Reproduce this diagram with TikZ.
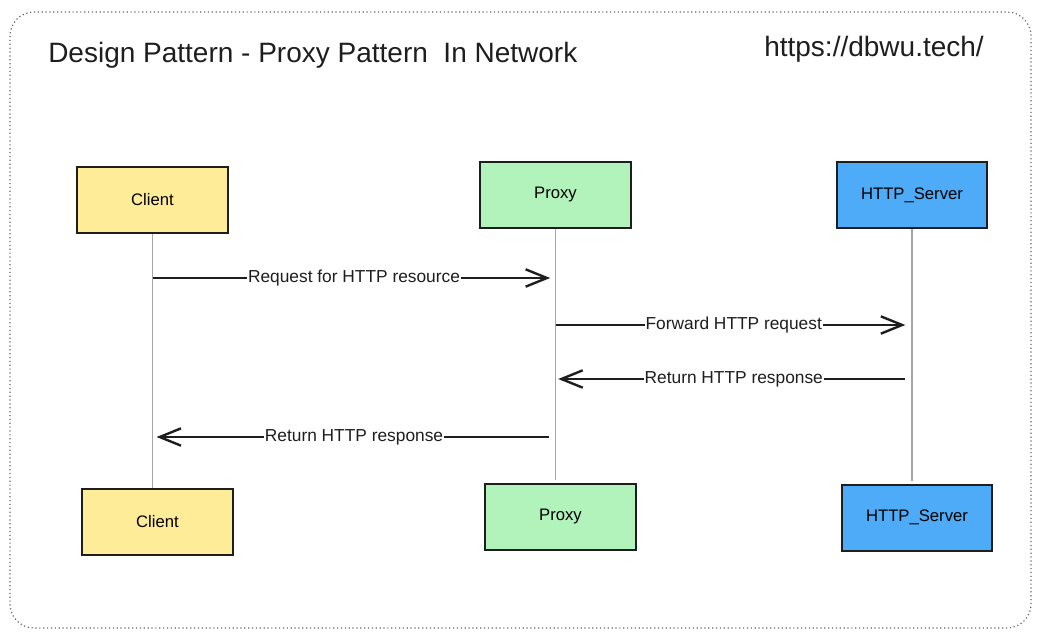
\documentclass[tikz,border=0pt]{standalone}
\usepackage{fontspec}
\setmainfont{Liberation Sans}
\usetikzlibrary{arrows.meta}
\definecolor{cyel}{HTML}{FFEC99}
\definecolor{cgrn}{HTML}{B2F2BB}
\definecolor{cblu}{HTML}{4DABF7}
\definecolor{ink}{HTML}{1E1E1E}
\tikzset{
  actor/.style={draw=ink, line width=1.5pt, minimum width=113pt, minimum height=49.5pt, inner sep=0pt, font=\fontsize{12.5}{14}\selectfont},
  life/.style={draw=black!35, line width=0.8pt},
  msg/.style={draw=ink, line width=2.2pt, -{Straight Barb[length=16pt,width=13pt,line width=1.8pt]}},
  lbl/.style={fill=white, inner sep=0.5pt, font=\fontsize{13}{15}\selectfont, text=ink},
}
\begin{document}
\begin{tikzpicture}[x=0.75pt,y=-0.75pt]
\useasboundingbox (0,0) rectangle (1041,638);
\draw[black!60, line width=0.9pt, dotted, rounded corners=18pt] (10,12) rectangle (1031,628);
\node[anchor=west, inner sep=0pt, font=\fontsize{21}{24}\selectfont, text=ink] (title) at (48,55) {Design Pattern - Proxy Pattern\ \ In Network};
\node[anchor=west, inner sep=0pt, font=\fontsize{21}{24}\selectfont, text=ink] (url) at (764,49) {https://dbwu.tech/};
% top actors
\node[actor, fill=cyel] (ct) at (152.5,200) {Client};
\node[actor, fill=cgrn] (pt) at (555.5,194.5) {Proxy};
\node[actor, fill=cblu] (st) at (912,195) {HTTP\_Server};
% bottom actors
\node[actor, fill=cyel] (cb) at (157.5,522) {Client};
\node[actor, fill=cgrn] (pb) at (560.5,516.5) {Proxy};
\node[actor, fill=cblu] (sb) at (917,517.5) {HTTP\_Server};
% lifelines
\coordinate (ce) at (ct.south |- 0,488);
\coordinate (pe) at (pt.south |- 0,480);
\coordinate (se) at (st.south |- 0,481);
\draw[life] (ct.south) -- (ce);
\draw[life] (pt.south) -- (pe);
\draw[life] (st.south) -- (se);
% messages
\coordinate (m1a) at (ct.south |- 0,278);
\coordinate (m1b) at (pt.south |- 0,278);
\coordinate (m2a) at (pt.south |- 0,325);
\coordinate (m2b) at (st.south |- 0,325);
\coordinate (m3a) at (st.south |- 0,379);
\coordinate (m3b) at (pt.south |- 0,379);
\coordinate (m4a) at (pt.south |- 0,437);
\coordinate (m4b) at (ct.south |- 0,437);
\draw[msg, shorten >=4pt] (m1a) -- node[lbl] (l1) {Request for HTTP resource} (m1b);
\draw[msg, shorten >=5pt] (m2a) -- node[lbl] (l2) {Forward HTTP request} (m2b);
\draw[msg, shorten <=5pt, shorten >=2pt] (m3a) -- node[lbl] (l3) {Return HTTP response} (m3b);
\draw[msg, shorten <=5pt, shorten >=3pt] (m4a) -- node[lbl] (l4) {Return HTTP response} (m4b);
\end{tikzpicture}
\end{document}
